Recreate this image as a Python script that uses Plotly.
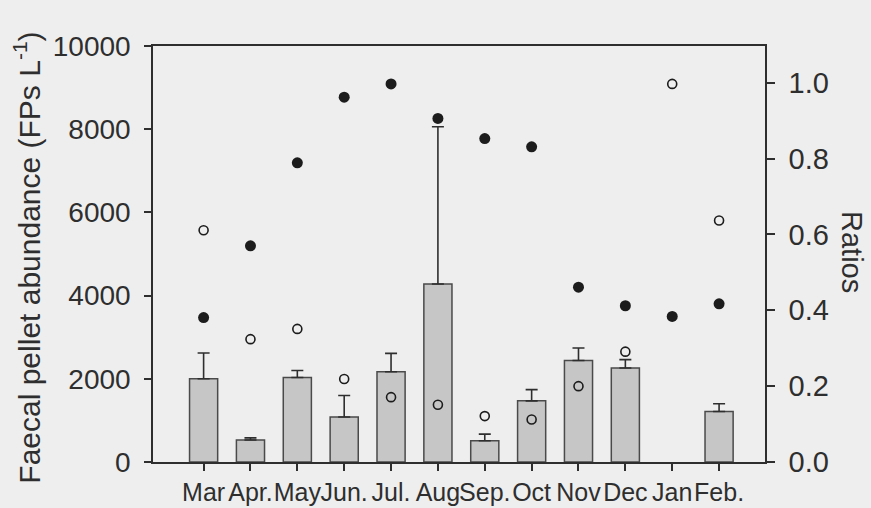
import plotly.graph_objects as go

# Monthly faecal pellet abundance (mean, upper SD) and two ratio series
months = ["Mar", "Apr.", "May", "Jun.", "Jul.", "Aug", "Sep.", "Oct", "Nov", "Dec", "Jan", "Feb."]
abundance = [2000, 530, 2030, 1080, 2170, 4280, 510, 1470, 2440, 2260, None, 1215]
abundance_sd = [620, 50, 170, 520, 440, 3780, 160, 270, 300, 200, None, 185]
ratio_filled = [0.381, 0.570, 0.789, 0.962, 0.997, 0.906, 0.853, 0.831, 0.461, 0.412, 0.384, 0.417]
ratio_open = [0.611, 0.324, 0.351, 0.219, 0.171, 0.151, 0.121, 0.112, 0.200, 0.291, 0.997, 0.637]

left_ticks = [0, 2000, 4000, 6000, 8000, 10000]
left_labels = ["0", "2000", "4000", "6000", "8000", "10000"]
right_ticks = [0.0, 0.2, 0.4, 0.6, 0.8, 1.0]

ink = "#2e2e2e"
bg = "#eeeeee"
font_family = "Liberation Sans, Arial, sans-serif"

fig = go.Figure()

fig.add_trace(go.Bar(
    x=months, y=abundance, width=0.6,
    marker=dict(color="#c6c6c6", line=dict(color="#4a4a4a", width=1.5)),
    error_y=dict(type="data", array=abundance_sd, arrayminus=[0] * len(months),
                 symmetric=False, color=ink, thickness=1.6, width=6),
    showlegend=False,
))

fig.add_trace(go.Scatter(
    x=months, y=ratio_filled, yaxis="y2", mode="markers",
    marker=dict(symbol="circle", size=11, color="#1c1c1c", line=dict(width=0)),
    showlegend=False,
))

fig.add_trace(go.Scatter(
    x=months, y=ratio_open, yaxis="y2", mode="markers",
    marker=dict(symbol="circle-open", size=9, color="#1c1c1c", line=dict(width=1.6)),
    showlegend=False,
))

fig.update_layout(
    width=871, height=508,
    margin=dict(l=153, r=106, t=46, b=46, autoexpand=False),
    paper_bgcolor=bg, plot_bgcolor=bg,
    font=dict(family=font_family, color=ink),
    xaxis=dict(
        range=[-1.08, 11.98], showgrid=False, zeroline=False,
        showline=True, linecolor=ink, linewidth=1.5, mirror=True,
        ticks="outside", ticklen=7, tickwidth=1.5, tickcolor=ink,
        tickangle=0, automargin=False, ticklabelstandoff=0,
        tickfont=dict(size=25, family=font_family, color=ink),
    ),
    yaxis=dict(
        range=[0, 10000], tickvals=left_ticks, ticktext=left_labels,
        showgrid=False, zeroline=False, automargin=False,
        showline=True, linecolor=ink, linewidth=1.5,
        ticks="outside", ticklen=7, tickwidth=1.5, tickcolor=ink,
        ticklabelstandoff=8,
        tickfont=dict(size=28, family=font_family, color=ink),
    ),
    yaxis2=dict(
        range=[0, 1.097], tickvals=right_ticks, tickformat=".1f",
        overlaying="y", side="right", showgrid=False, zeroline=False,
        automargin=False,
        showline=True, linecolor=ink, linewidth=1.5,
        ticks="outside", ticklen=8, tickwidth=1.5, tickcolor=ink,
        ticklabelstandoff=8,
        tickfont=dict(size=29, family=font_family, color=ink),
    ),
    annotations=[
        dict(text="Faecal pellet abundance (FPs L<sup>-1</sup>)", textangle=-90,
             xref="paper", yref="paper", x=-0.205, y=0.49,
             xanchor="center", yanchor="middle", showarrow=False,
             font=dict(size=30, family=font_family, color=ink)),
        dict(text="Ratios", textangle=90,
             xref="paper", yref="paper", x=1.142, y=0.505,
             xanchor="center", yanchor="middle", showarrow=False,
             font=dict(size=29, family=font_family, color=ink)),
    ],
)

fig.write_html("out.html")
